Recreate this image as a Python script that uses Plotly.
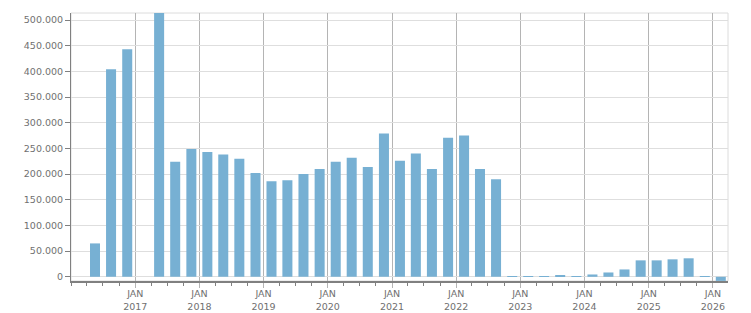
import plotly.graph_objects as go

quarters = [
    "2016-04-01", "2016-07-01", "2016-10-01",
    "2017-01-01", "2017-04-01", "2017-07-01", "2017-10-01",
    "2018-01-01", "2018-04-01", "2018-07-01", "2018-10-01",
    "2019-01-01", "2019-04-01", "2019-07-01", "2019-10-01",
    "2020-01-01", "2020-04-01", "2020-07-01", "2020-10-01",
    "2021-01-01", "2021-04-01", "2021-07-01", "2021-10-01",
    "2022-01-01", "2022-04-01", "2022-07-01", "2022-10-01",
    "2023-01-01", "2023-04-01", "2023-07-01", "2023-10-01",
    "2024-01-01", "2024-04-01", "2024-07-01", "2024-10-01",
    "2025-01-01", "2025-04-01", "2025-07-01", "2025-10-01",
    "2026-01-01",
]
values = [
    65000, 404000, 443000,
    None, 520000, 224000, 249000,
    243000, 238000, 230000, 202000,
    186000, 188000, 200000, 210000,
    224000, 232000, 214000, 279000,
    226000, 240000, 210000, 271000,
    275000, 210000, 190000, 1500,
    1500, 1500, 2600, 1500,
    4500, 8400, 14300, 32000,
    32000, 34000, 36000, 1500,
    -8000,
]
tick_vals = ["2017-01-01", "2018-01-01", "2019-01-01", "2020-01-01", "2021-01-01",
             "2022-01-01", "2023-01-01", "2024-01-01", "2025-01-01", "2026-01-01"]
tick_text = ["JAN<br>2017", "JAN<br>2018", "JAN<br>2019", "JAN<br>2020", "JAN<br>2021",
             "JAN<br>2022", "JAN<br>2023", "JAN<br>2024", "JAN<br>2025", "JAN<br>2026"]

fig = go.Figure()
fig.add_trace(go.Bar(
    x=quarters, y=values,
    xperiod="M3", xperiodalignment="middle",
    marker=dict(color="#77b0d3", line=dict(width=0)),
    hoverinfo="x+y",
))

fig.update_layout(
    width=751, height=313,
    margin=dict(l=71, r=23, t=13, b=32, autoexpand=False),
    paper_bgcolor="white", plot_bgcolor="white",
    font=dict(family="DejaVu Sans", size=9.5, color="#707070"),
    separators=",.",
    bargap=0.37,
    showlegend=False,
    shapes=[dict(type="rect", xref="paper", yref="paper", x0=0, x1=1, y0=0, y1=1,
                 line=dict(color="#dcdcdc", width=1), layer="below")],
)
fig.update_xaxes(
    type="date",
    range=["2016-01-01", "2026-03-28"],
    tickmode="array", tickvals=tick_vals, ticktext=tick_text,
    showgrid=True, gridcolor="#b4b4b4", gridwidth=1,
    ticks="outside", ticklen=5, tickcolor="#b4b4b4", tickwidth=1,
    ticklabelstandoff=-2,
    showline=True, linecolor="#808080", linewidth=2,
    minor=dict(tickmode="linear", tick0="2016-01-01", dtick="M3", ticks="outside",
               ticklen=3, tickcolor="#808080", tickwidth=1, showgrid=False),
    zeroline=False, automargin=False,
    fixedrange=True,
)
fig.update_yaxes(
    range=[-8200, 513700],
    tickmode="linear", tick0=0, dtick=50000,
    tickformat=",d",
    showgrid=True, gridcolor="#dedede", gridwidth=1,
    ticks="outside", ticklen=5, tickcolor="#808080", tickwidth=1,
    showline=True, linecolor="#808080", linewidth=1,
    zeroline=False, automargin=False,
    fixedrange=True,
)

fig.write_html("out.html")
